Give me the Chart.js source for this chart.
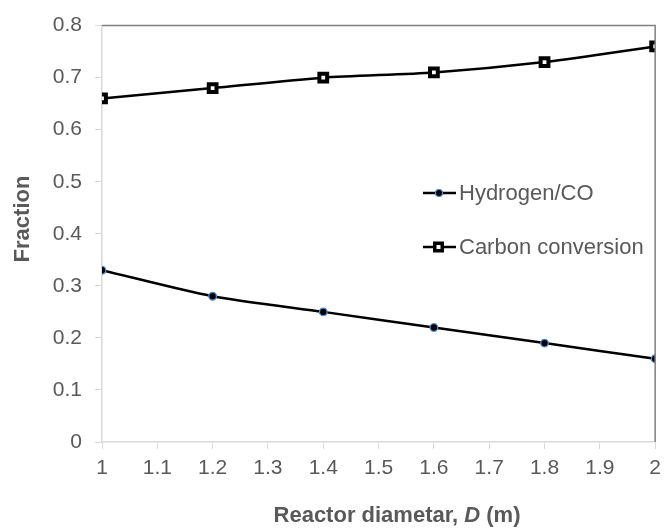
<!DOCTYPE html>
<html>
<head>
<meta charset="utf-8">
<script src="https://cdn.jsdelivr.net/npm/chart.js@4"></script>
<style>
  html, body { margin: 0; padding: 0; background: #fff; }
  #wrap { width: 668px; height: 528px; }
</style>
</head>
<body>
<div id="wrap"><canvas id="chart" width="668" height="528"></canvas></div>
<script>
const diameters = [1, 1.2, 1.4, 1.6, 1.8, 2];
const hydrogenCO = [0.33, 0.28, 0.25, 0.22, 0.19, 0.16];
const carbonConv = [0.66, 0.68, 0.70, 0.71, 0.73, 0.76];
const seriesNames = ['Hydrogen/CO', 'Carbon conversion'];

const FONT = '"Liberation Sans", Arial, sans-serif';
const TXT = '#595959';

// cadre, légende et titres dessinés à la main
const extras = {
    id: 'extras',
    afterDraw(chart) {
        const ctx = chart.ctx;
        const a = chart.chartArea;
        ctx.save();
        // bord haut + droit
        ctx.strokeStyle = '#7f7f7f';
        ctx.lineWidth = 1.5;
        ctx.beginPath();
        ctx.moveTo(a.left, a.top);
        ctx.lineTo(a.right, a.top);
        ctx.lineTo(a.right, a.bottom);
        ctx.stroke();

        // légende
        const items = [
            { y: 193, ds: chart.data.datasets[0] },
            { y: 247, ds: chart.data.datasets[1] }
        ];
        items.forEach(it => {
            ctx.strokeStyle = '#000';
            ctx.lineWidth = 2.5;
            ctx.beginPath();
            ctx.moveTo(423, it.y);
            ctx.lineTo(456, it.y);
            ctx.stroke();
            const ds = it.ds;
            if (ds.pointStyle === 'rect') {
                ctx.fillStyle = '#000';
                ctx.fillRect(433, it.y - 5.5, 11, 11);
                ctx.fillStyle = '#fff';
                ctx.fillRect(436.5, it.y - 2, 4, 4);
            } else {
                ctx.beginPath();
                ctx.arc(439, it.y, 3.5, 0, Math.PI * 2);
                ctx.fillStyle = '#000';
                ctx.fill();
                ctx.strokeStyle = '#4a90d9';
                ctx.lineWidth = 1.2;
                ctx.stroke();
            }
            ctx.fillStyle = TXT;
            ctx.font = '22px ' + FONT;
            ctx.textBaseline = 'middle';
            ctx.textAlign = 'left';
            ctx.fillText(ds.label, 459, it.y + 1);
        });

        // titre axe Y
        ctx.fillStyle = TXT;
        ctx.font = 'bold 22px ' + FONT;
        ctx.translate(23, 219);
        ctx.rotate(-Math.PI / 2);
        ctx.textAlign = 'center';
        ctx.textBaseline = 'middle';
        ctx.fillText('Fraction', 0, 0);
        ctx.setTransform(1, 0, 0, 1, 0, 0);

        // titre axe X (D en italique)
        const parts = [
            ['bold 22px ' + FONT, 'Reactor diametar, '],
            ['italic bold 22px ' + FONT, 'D'],
            ['bold 22px ' + FONT, ' (m)']
        ];
        let w = 0;
        parts.forEach(p => { ctx.font = p[0]; w += ctx.measureText(p[1]).width; });
        let x = 397 - w / 2;
        ctx.textAlign = 'left';
        ctx.textBaseline = 'middle';
        parts.forEach(p => {
            ctx.font = p[0];
            ctx.fillText(p[1], x, 516);
            x += ctx.measureText(p[1]).width;
        });
        ctx.restore();
    }
};

const ctx = document.getElementById('chart').getContext('2d');
new Chart(ctx, {
    type: 'line',
    data: {
        datasets: [
            {
                label: seriesNames[0],
                data: diameters.map((d, i) => ({ x: d, y: hydrogenCO[i] })),
                borderColor: '#000',
                borderWidth: 2.5,
                tension: 0.25,
                pointStyle: 'circle',
                pointRadius: 3.8,
                pointBackgroundColor: '#000',
                pointBorderColor: '#4a90d9',
                pointBorderWidth: 1.3
            },
            {
                label: seriesNames[1],
                data: diameters.map((d, i) => ({ x: d, y: carbonConv[i] })),
                borderColor: '#000',
                borderWidth: 2.5,
                tension: 0.25,
                pointStyle: 'rect',
                pointRadius: 5.5,
                pointBackgroundColor: '#fff',
                pointBorderColor: '#000',
                pointBorderWidth: 4
            }
        ]
    },
    options: {
        responsive: false,
        animation: false,
        layout: { padding: { left: 0, right: 9, top: 24, bottom: 0 } },
        plugins: { legend: { display: false }, tooltip: { enabled: false } },
        scales: {
            x: {
                type: 'linear',
                min: 1, max: 2,
                afterFit: s => { s.height = 86; },
                afterBuildTicks: s => {
                    s.ticks = [];
                    for (let i = 0; i <= 10; i++) s.ticks.push({ value: 1 + i / 10 });
                },
                ticks: {
                    color: TXT,
                    font: { family: FONT, size: 21 },
                    padding: 7,
                    maxRotation: 0,
                    autoSkip: false,
                    callback: v => String(Math.round(v * 10) / 10)
                },
                grid: { drawOnChartArea: false, drawTicks: true, tickLength: 7, color: '#d9d9d9' },
                border: { color: '#d9d9d9', width: 1.5 }
            },
            y: {
                min: 0, max: 0.8,
                afterFit: s => { s.width = 102; },
                ticks: {
                    stepSize: 0.1,
                    color: TXT,
                    font: { family: FONT, size: 21 },
                    padding: 13,
                    callback: v => String(Math.round(v * 10) / 10)
                },
                grid: { drawOnChartArea: false, drawTicks: true, tickLength: 7, color: '#d9d9d9' },
                border: { color: '#d9d9d9', width: 1.5 }
            }
        }
    },
    plugins: [extras]
});
</script>
</body>
</html>
